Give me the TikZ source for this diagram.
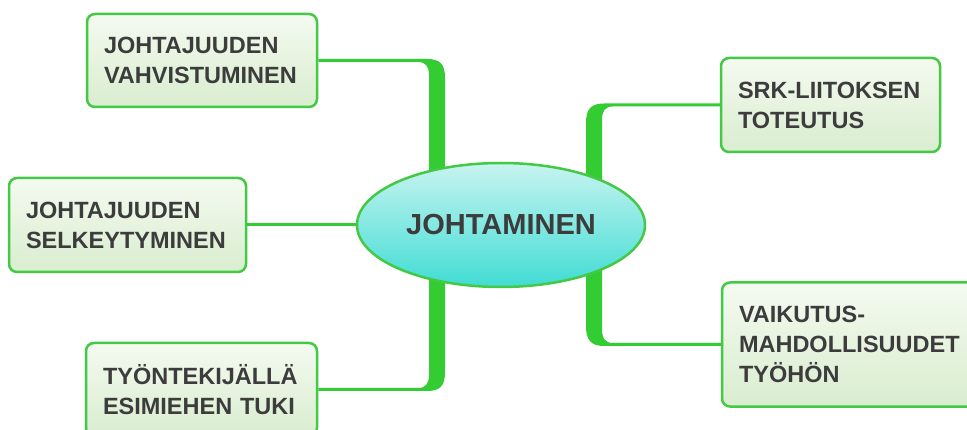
\documentclass[tikz,border=0pt]{standalone}
\usepackage{fontspec}
\setmainfont{Liberation Sans}
\usetikzlibrary{shapes.geometric,backgrounds}
\definecolor{lineg}{HTML}{33CC33}
\definecolor{boxline}{HTML}{44C944}
\definecolor{boxtop}{HTML}{F4FAF0}
\definecolor{boxbot}{HTML}{D9EDCF}
\definecolor{elltop}{HTML}{C8F4F0}
\definecolor{ellbot}{HTML}{40DCD4}
\definecolor{txt}{HTML}{3C3C3C}
\tikzset{
  topicbox/.style={draw=boxline, line width=2.5pt, rounded corners=8pt,
    top color=boxtop, bottom color=boxbot, shading angle=0,
    inner xsep=17pt, inner ysep=0pt, align=left, text=txt,
    font=\fontsize{23.5}{30}\selectfont\bfseries},
  centerell/.style={ellipse, draw=boxline, line width=2.5pt,
    top color=elltop, bottom color=ellbot,
    minimum width=288pt, minimum height=124pt, inner sep=0pt, text=txt,
    font=\fontsize{29}{34}\selectfont\bfseries},
  conn/.style={fill=lineg},
  thinconn/.style={draw=lineg, line width=3pt}
}
\begin{document}
\begin{tikzpicture}[x=1pt,y=-1pt]
\useasboundingbox (0,0) rectangle (967,430);
\clip (0,0) rectangle (967,430);

\node[centerell] (e) at (501,225) {JOHTAMINEN};
\node[topicbox, text width=196pt, minimum height=93pt] (b1) at (202,60.5) {JOHTAJUUDEN\\VAHVISTUMINEN};
\node[topicbox, text width=203pt, minimum height=94pt] (b2) at (127.5,225) {JOHTAJUUDEN\\SELKEYTYMINEN};
\node[topicbox, text width=197pt, minimum height=93pt] (b3) at (201.5,389.5) {TYÖNTEKIJÄLLÄ\\ESIMIEHEN TUKI};
\node[topicbox, text width=185pt, minimum height=94pt] (b4) at (830.5,105) {SRK-LIITOKSEN\\TOTEUTUS};
\node[topicbox, text width=226pt, minimum height=124pt] (b5) at (852,344.5) {VAIKUTUS-\\MAHDOLLISUUDET\\TYÖHÖN};

\begin{scope}[on background layer]
  % upper left
  \fill[conn] ([yshift=1.5pt]b1.east) -- (427,59) .. controls (440,59) and (445,64) .. (445,78)
    -- (445,225) -- (429,225) -- (429,75) .. controls (429,67) and (426,62) .. (418,62)
    -- ([yshift=-1.5pt]b1.east) -- cycle;
  % middle left
  \draw[thinconn] (b2.east) -- (e.west);
  % lower left
  \fill[conn] ([yshift=1.5pt]b3.east) -- (418,388) .. controls (426,388) and (429,383) .. (429,375)
    -- (429,225) -- (445,225) -- (445,372) .. controls (445,386) and (440,391) .. (427,391)
    -- ([yshift=-1.5pt]b3.east) -- cycle;
  % upper right
  \fill[conn] ([yshift=1.5pt]b4.west) -- (604,103.5) .. controls (591,103.5) and (586,109) .. (586,123)
    -- (586,225) -- (602,225) -- (602,120) .. controls (602,111) and (605,106.5) .. (613,106.5)
    -- ([yshift=-1.5pt]b4.west) -- cycle;
  % lower right
  \fill[conn] ([yshift=1.5pt]b5.west) -- (613,343) .. controls (605,343) and (602,338) .. (602,329)
    -- (602,225) -- (586,225) -- (586,326) .. controls (586,340) and (591,346) .. (604,346)
    -- ([yshift=-1.5pt]b5.west) -- cycle;
\end{scope}
\end{tikzpicture}
\end{document}
